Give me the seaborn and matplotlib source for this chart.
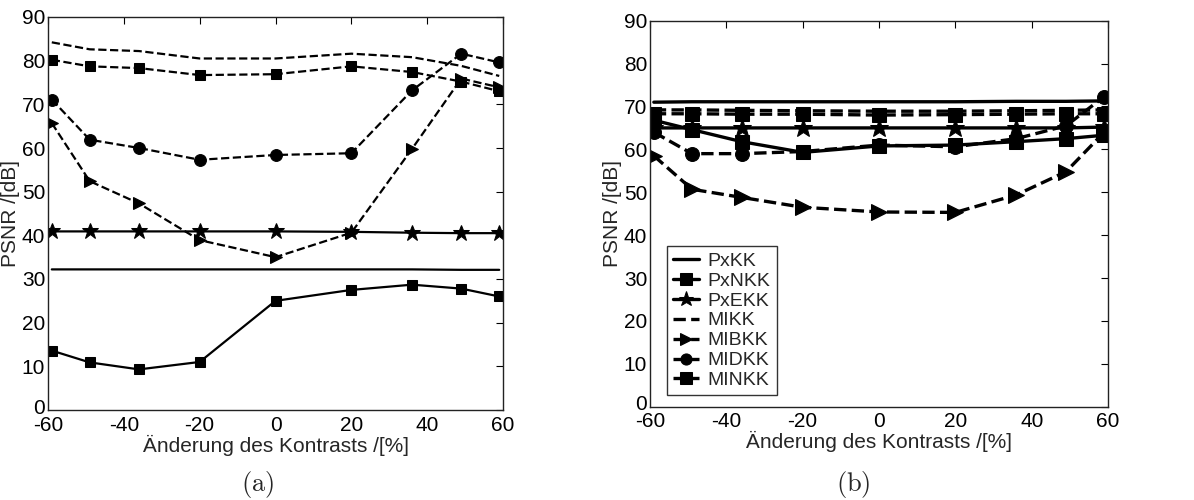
import matplotlib
matplotlib.use("Agg")
import matplotlib.pyplot as plt
import matplotlib.transforms as mtransforms
import seaborn as sns

# ---- data ----
contrast = [-59, -49, -36, -20, 0, 20, 36, 49, 59]
series_names = ["PxKK", "PxNKK", "PxEKK", "MIKK", "MIBKK", "MIDKK", "MINKK"]

# panel (a)
PxKK_a = [32.2, 32.2, 32.2, 32.2, 32.2, 32.2, 32.2, 32.1, 32.1]
PxNKK_a = [13.6, 10.9, 9.3, 11.0, 25.0, 27.5, 28.7, 27.8, 26.0]
PxEKK_a = [40.9, 40.9, 40.9, 40.9, 40.9, 40.8, 40.6, 40.5, 40.5]
MIKK_a = [84.2, 82.6, 82.2, 80.5, 80.5, 81.6, 80.8, 78.8, 76.5]
MIBKK_a = [65.7, 52.4, 47.3, 38.9, 35.0, 40.6, 59.8, 75.9, 73.9]
MIDKK_a = [71.1, 61.9, 60.0, 57.3, 58.4, 58.8, 73.2, 81.6, 79.6]
MINKK_a = [80.2, 78.7, 78.3, 76.7, 76.9, 78.7, 77.4, 75.2, 73.0]

# panel (b)
PxKK_b = [71.0, 71.1, 71.1, 71.1, 71.1, 71.1, 71.2, 71.2, 71.3]
PxNKK_b = [66.8, 64.6, 61.8, 59.3, 60.8, 61.0, 61.8, 62.5, 63.3]
PxEKK_b = [65.0, 65.0, 65.0, 65.0, 65.0, 65.0, 65.0, 65.0, 65.2]
MIKK_b = [69.2, 69.2, 69.1, 69.0, 68.9, 68.9, 69.0, 69.1, 69.2]
MIBKK_b = [58.5, 50.7, 48.8, 46.5, 45.4, 45.3, 49.4, 54.8, 64.0]
MIDKK_b = [64.0, 59.0, 59.0, 59.5, 61.0, 60.6, 62.5, 65.5, 72.3]
MINKK_b = [68.3, 68.3, 68.2, 68.2, 68.0, 68.1, 68.2, 68.3, 68.3]

x_ticks = [-60, -40, -20, 0, 20, 40, 60]
y_ticks = [0, 10, 20, 30, 40, 50, 60, 70, 80, 90]
x_label = "Änderung des Kontrasts /[%]"
y_label = "PSNR /[dB]"

# ---- style ----
sns.set_style("white")
plt.rcParams["font.family"] = ["Liberation Sans", "DejaVu Sans"]
plt.rcParams["mathtext.fontset"] = "cm"
plt.rcParams["axes.unicode_minus"] = False

styles = {
    "PxKK": dict(ls="-", marker=None),
    "PxNKK": dict(ls="-", marker="s"),
    "PxEKK": dict(ls="-", marker="*"),
    "MIKK": dict(ls="--", marker=None),
    "MIBKK": dict(ls="--", marker=">"),
    "MIDKK": dict(ls="--", marker="o"),
    "MINKK": dict(ls="--", marker="s"),
}
msize_a = {"s": 7.5, "*": 12, ">": 9, "o": 8.5}
msize_b = {"s": 10, "*": 14, ">": 11.5, "o": 10}

data_a = dict(zip(series_names, [PxKK_a, PxNKK_a, PxEKK_a, MIKK_a, MIBKK_a, MIDKK_a, MINKK_a]))
data_b = dict(zip(series_names, [PxKK_b, PxNKK_b, PxEKK_b, MIKK_b, MIBKK_b, MIDKK_b, MINKK_b]))

fig = plt.figure(figsize=(11.94, 5.0), dpi=100)
ax_a = fig.add_axes([0.0402, 0.180, 0.3811, 0.786])
ax_b = fig.add_axes([0.5444, 0.1866, 0.3836, 0.772])


def draw(ax, data, lw, msizes):
    for name in series_names:
        st = styles[name]
        kw = dict(color="black", linewidth=lw, linestyle=st["ls"], label=name)
        if st["marker"] is not None:
            kw.update(marker=st["marker"], markersize=msizes[st["marker"]],
                      markerfacecolor="black", markeredgecolor="black")
        sns.lineplot(x=contrast, y=data[name], ax=ax, sort=False,
                     errorbar=None, **kw)
    ax.set_xlim(-60, 60)
    ax.set_ylim(0, 90)
    ax.set_xticks(x_ticks)
    ax.set_yticks(y_ticks)
    ax.tick_params(direction="in", length=5, width=0.8, top=True, right=True,
                   labelsize=15, pad=2, colors="black")
    ax.tick_params(axis="x", pad=4)
    for sp in ax.spines.values():
        sp.set_visible(True)
        sp.set_color("#222222")
        sp.set_linewidth(1.0)
    ax.set_xlabel(x_label, fontsize=15, labelpad=0)
    ax.set_ylabel(y_label, fontsize=15, labelpad=1)
    # nudge the "0" y tick label up a little so it does not collide with "-60"
    offset = mtransforms.ScaledTranslation(0, 4 / 100, fig.dpi_scale_trans)
    lbl0 = ax.get_yticklabels()[0]
    lbl0.set_transform(lbl0.get_transform() + offset)


draw(ax_a, data_a, 1.6, msize_a)
draw(ax_b, data_b, 2.4, msize_b)

if ax_a.get_legend() is not None:
    ax_a.get_legend().remove()
if ax_b.get_legend() is not None:
    ax_b.get_legend().remove()

handles, labels = ax_b.get_legend_handles_labels()
leg = ax_b.legend(handles, labels, loc="lower left", bbox_to_anchor=(0.037, 0.03),
                  borderaxespad=0, fontsize=14, frameon=True, fancybox=False,
                  edgecolor="black", handlelength=1.35, handletextpad=0.45,
                  labelspacing=0.12, borderpad=0.3, markerscale=0.8)
leg.get_frame().set_linewidth(1.0)

fig.text(258 / 1194, 1 - 485 / 500, r"$\mathrm{(a)}$", ha="center", va="center", fontsize=19)
fig.text(853 / 1194, 1 - 485 / 500, r"$\mathrm{(b)}$", ha="center", va="center", fontsize=19)

fig.savefig("out.png", dpi=100, facecolor="white")
